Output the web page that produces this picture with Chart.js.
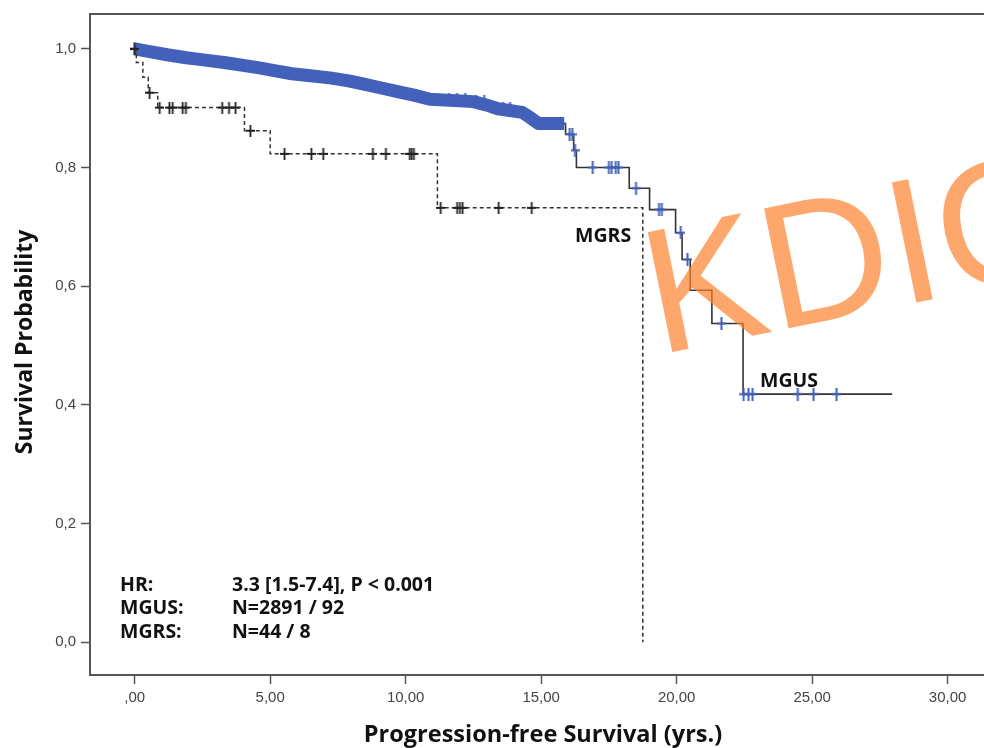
<!DOCTYPE html>
<html>
<head>
<meta charset="utf-8">
<title>Progression-free Survival MGUS vs MGRS</title>
<script src="https://cdn.jsdelivr.net/npm/chart.js@4.4.1/dist/chart.umd.min.js"></script>
<style>
  html, body { margin: 0; padding: 0; background: #fff; overflow: hidden; }
  #wrap { width: 1040px; height: 748px; }
</style>
</head>
<body>
<div id="wrap"><canvas id="km" width="1040" height="748"></canvas></div>
<script>
// axis ticks
const xTicks = [0, 5, 10, 15, 20, 25, 30];
const xTickLabels = [',00', '5,00', '10,00', '15,00', '20,00', '25,00', '30,00'];
const yTicks = [0, 0.2, 0.4, 0.6, 0.8, 1.0];
const yTickLabels = ['0,0', '0,2', '0,4', '0,6', '0,8', '1,0'];

// MGUS: step times (yrs) and survival after each step
const mgusTime = [0, 0.6, 1.2, 1.9, 2.6, 3.3, 4.0, 4.6, 5.2, 5.8, 6.4, 7.2, 7.9, 8.5, 9.1, 9.7, 10.3, 10.9,
  12.5, 13.0, 13.4, 14.3, 14.6, 14.9, 15.9, 16.2, 16.3, 18.25, 19.0, 19.96, 20.2, 20.5, 21.3, 22.45, 27.95];
const mgusSurv = [1.0, 0.995, 0.99, 0.985, 0.981, 0.977, 0.972, 0.968, 0.963, 0.958, 0.955, 0.951, 0.946, 0.940, 0.934, 0.928, 0.922, 0.915,
  0.911, 0.905, 0.899, 0.893, 0.884, 0.874, 0.856, 0.829, 0.80, 0.765, 0.729, 0.690, 0.645, 0.593, 0.537, 0.418, 0.418];
// censored cases (the dense band up to ~16 yrs is drawn as one thick line)
const mgusCensor = [0, 11.6, 11.9, 12.2, 12.6, 12.9, 13.6, 13.85, 14.95, 15.15, 15.35, 15.55, 15.75,
  16.05, 16.15, 16.25, 16.9, 17.5, 17.6, 17.75, 17.85, 18.5, 19.35, 19.45, 20.15, 20.4, 21.65,
  22.47, 22.65, 22.8, 24.47, 25.05, 25.9];
const mgusBandEnd = 15.85;

// MGRS
const mgrsTime = [0, 0.06, 0.3, 0.5, 0.85, 4.05, 5.0, 11.17, 18.75];
const mgrsSurv = [1.0, 0.977, 0.952, 0.926, 0.901, 0.862, 0.823, 0.732, 0.0];
const mgrsCensor = [0, 0.55, 0.92, 1.28, 1.40, 1.77, 1.89, 3.23, 3.48, 3.72, 4.27, 5.53, 6.52, 6.96,
  8.79, 9.27, 10.15, 10.22, 10.3, 11.29, 11.9, 12.0, 12.1, 13.43, 14.65];

const noteRows = [['HR:', '3.3 [1.5-7.4], P < 0.001'], ['MGUS:', 'N=2891 / 92'], ['MGRS:', 'N=44 / 8']];

// helpers
function survAt(times, surv, t) {
  let s = surv[0];
  for (let i = 0; i < times.length; i++) {
    if (times[i] <= t) s = surv[i];
  }
  return s;
}

function plusMark(color, w, h, lw) {
  const c = document.createElement('canvas');
  c.width = w; c.height = h;
  const g = c.getContext('2d');
  g.strokeStyle = color;
  g.lineWidth = lw;
  g.beginPath();
  g.moveTo(w / 2, 0); g.lineTo(w / 2, h);
  g.moveTo(0, h / 2); g.lineTo(w, h / 2);
  g.stroke();
  return c;
}

const BLUE = '#4360ba';
const bluePlus = plusMark(BLUE, 9, 13, 2);
const blackPlus = plusMark('#222', 9, 12, 1.8);

const mgusPts = mgusTime.map((t, i) => ({ x: t, y: mgusSurv[i] }));
const bandPts = mgusPts.filter(p => p.x < mgusBandEnd);
bandPts.push({ x: mgusBandEnd, y: survAt(mgusTime, mgusSurv, mgusBandEnd) });
const mgrsPts = mgrsTime.map((t, i) => ({ x: t, y: mgrsSurv[i] }));

const FONT = '"Open Sans", "Noto Sans", sans-serif';

const decor = {
  id: 'decor',
  beforeDraw(chart) {
    const c = chart.ctx;
    c.save();
    c.fillStyle = '#fff';
    c.fillRect(0, 0, chart.width, chart.height);
    c.restore();
  },
  afterDatasetsDraw(chart) {
    const c = chart.ctx;
    // watermark
    c.save();
    c.translate(658, 355);
    c.rotate(-11.5 * Math.PI / 180);
    c.font = '178px "Liberation Sans", Arial, sans-serif';
    c.fillStyle = 'rgba(253,130,45,0.7)';
    c.textBaseline = 'alphabetic';
    c.fillText('KDIGO', 0, 0);
    c.restore();
  },
  afterDraw(chart) {
    const c = chart.ctx;
    const a = chart.chartArea;
    c.save();
    // top frame line
    c.strokeStyle = '#555';
    c.lineWidth = 2;
    c.beginPath();
    c.moveTo(a.left, a.top);
    c.lineTo(a.right, a.top);
    c.stroke();

    c.fillStyle = '#111';
    c.textBaseline = 'middle';
    c.font = 'bold 19.5px ' + FONT;
    noteRows.forEach((r, i) => {
      const y = 585 + i * 23.5;
      c.fillText(r[0], 120, y);
      c.fillText(r[1], 232, y);
    });
    c.fillText('MGRS', 575, 236);
    c.fillText('MGUS', 760, 381);

    // axis titles
    c.textAlign = 'center';
    c.font = 'bold 23.5px ' + FONT;
    c.fillText('Progression-free Survival (yrs.)', 543, 735);
    c.translate(25, 342);
    c.rotate(-Math.PI / 2);
    c.font = 'bold 23px ' + FONT;
    c.fillText('Survival Probability', 0, 0);
    c.restore();
  }
};

const tickFont = { family: '"Liberation Sans", Arial, sans-serif', size: 15 };

new Chart(document.getElementById('km'), {
  type: 'scatter',
  data: {
    datasets: [
      { label: 'MGUS', data: mgusPts, showLine: true, stepped: true, borderColor: '#333',
        borderWidth: 1.6, pointRadius: 0, order: 6 },
      { label: 'MGUS band', data: bandPts, showLine: true, borderColor: BLUE,
        borderWidth: 13, borderCapStyle: 'butt', borderJoinStyle: 'round', pointRadius: 0, order: 5 },
      { label: 'MGUS censored', data: mgusCensor.map(t => ({ x: t, y: survAt(mgusTime, mgusSurv, t) })),
        pointStyle: bluePlus, pointRadius: 6, order: 4 },
      { label: 'MGRS', data: mgrsPts, showLine: true, stepped: true, borderColor: '#333',
        borderWidth: 1.5, borderDash: [4, 3], pointRadius: 0, order: 2 },
      { label: 'MGRS censored', data: mgrsCensor.map(t => ({ x: t, y: survAt(mgrsTime, mgrsSurv, t) })),
        pointStyle: blackPlus, pointRadius: 6, order: 1 }
    ]
  },
  options: {
    responsive: false,
    animation: false,
    devicePixelRatio: 1,
    layout: { padding: { top: 11, left: 0, right: 0, bottom: 0 } },
    plugins: { legend: { display: false }, tooltip: { enabled: false } },
    scales: {
      x: {
        type: 'linear', min: -1.65, max: 33.15,
        afterFit: s => { s.height = 73; },
        afterBuildTicks: s => { s.ticks = xTicks.map(v => ({ value: v })); },
        ticks: { callback: (v, i) => xTickLabels[i], autoSkip: false, maxRotation: 0,
          padding: 5, color: '#444', font: tickFont },
        grid: { drawOnChartArea: false, drawTicks: true, tickLength: 9, tickColor: '#555', tickWidth: 1.5 },
        border: { display: true, color: '#555', width: 2 }
      },
      y: {
        type: 'linear', min: -0.0554, max: 1.0587,
        afterFit: s => { s.width = 90; },
        afterBuildTicks: s => { s.ticks = yTicks.map(v => ({ value: v })); },
        ticks: { callback: (v, i) => yTickLabels[i], autoSkip: false, padding: 5, color: '#444', font: tickFont },
        grid: { drawOnChartArea: false, drawTicks: true, tickLength: 9, tickColor: '#555', tickWidth: 1.5 },
        border: { display: true, color: '#555', width: 2 }
      }
    }
  },
  plugins: [decor]
});
</script>
</body>
</html>
